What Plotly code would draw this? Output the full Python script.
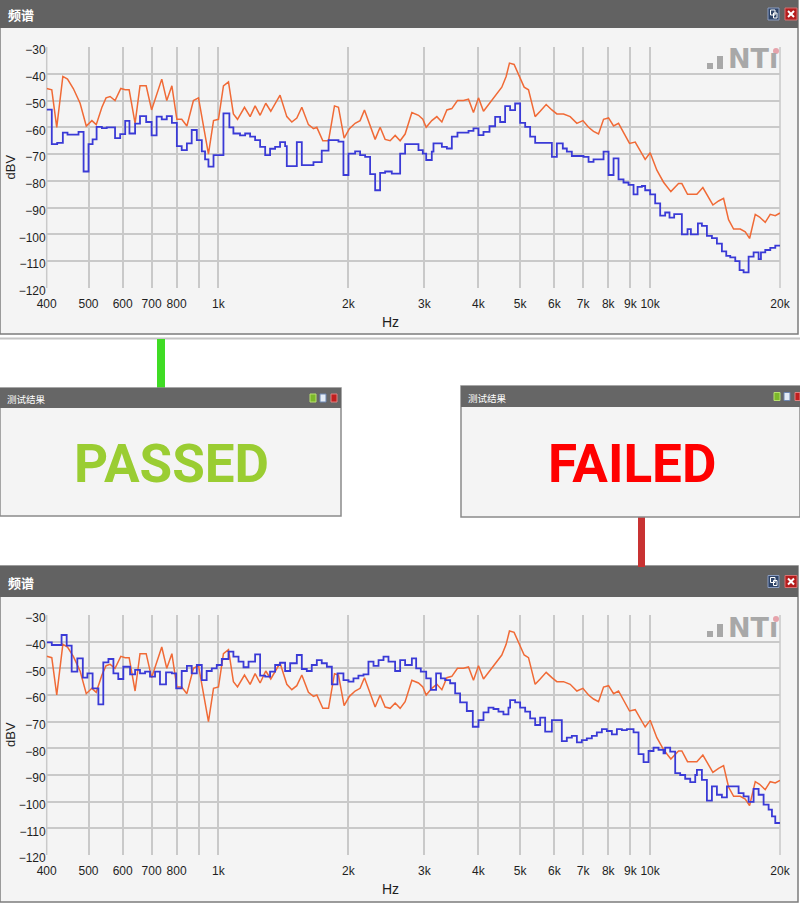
import math
import plotly.graph_objects as go

# ---------------- data ----------------
ORANGE_F = [400, 411, 422, 436, 447, 461, 478, 487, 494, 509,
            521, 537, 549, 561, 576, 594, 608, 621, 641, 658,
            680, 700, 719, 739, 759, 780, 801, 822, 845, 875,
            899, 923, 948, 974, 1000, 1027, 1055, 1083, 1107, 1149,
            1184, 1216, 1249, 1287, 1322, 1389, 1440, 1479, 1519, 1560,
            1616, 1660, 1690, 1745, 1799, 1857, 1897, 1955, 2011, 2073,
            2129, 2179, 2246, 2307, 2369, 2433, 2499, 2567, 2636, 2707,
            2806, 2907, 2975, 3029, 3121, 3206, 3293, 3382, 3473, 3579,
            3696, 3796, 3898, 4004, 4112, 4246, 4376, 4534, 4640, 4723,
            4842, 4956, 5108, 5228, 5417, 5564, 5745, 5922, 6082, 6302,
            6530, 6767, 6988, 7202, 7396, 7596, 7802, 8013, 8230, 8451,
            8679, 8962, 9238, 9486, 9742, 10006, 10180, 10369, 10745, 11173,
            11640, 11848, 12212, 12835, 13253, 13980, 14412, 14800, 15200, 15616,
            16180, 16616, 17004, 17528, 17936, 18484, 18984, 19500, 20000]
ORANGE_DB = [-45.5, -46, -60, -41, -42, -45.5, -51, -56, -59.5, -57.5,
             -59, -52.5, -49, -48.5, -50, -45.5, -46, -46, -58.5, -44.5,
             -44.5, -53.5, -47.5, -42, -50, -44.5, -57, -57, -59.5, -50,
             -49, -60, -70, -57.5, -57, -44.5, -43, -55, -57, -52.5,
             -56, -52, -55.5, -51, -54, -48, -56, -58, -56.5, -52.5,
             -59, -60.5, -60, -65, -65, -52, -52.5, -64, -60.5, -58.5,
             -57.5, -53.5, -59, -64.5, -60, -64.5, -65, -63, -65, -62.5,
             -54.5, -55.5, -57, -60, -57.5, -56, -58, -53.5, -53, -50,
             -50, -49.5, -54.5, -49, -54, -51, -48.5, -45, -41, -36,
             -36.5, -40.5, -45, -46, -56, -54, -51.5, -53.5, -55, -55,
             -56, -58.5, -57.5, -60, -61.5, -62.5, -57, -56.5, -59.5, -58.5,
             -62, -66, -65.5, -69, -72, -69.5, -73, -76, -80.5, -84,
             -81, -81, -85, -85, -82.5, -89, -87.5, -86.5, -94.5, -98,
             -98, -99, -101.5, -92.5, -93.5, -95.5, -92.5, -93, -92]

# top chart, measured (blue, stepped): band start frequency -> level
TOP_BLUE_F = [400, 411, 423, 436, 447, 474, 487, 500, 511, 522,
              537, 551, 576, 592, 608, 622, 641, 658, 680, 700,
              719, 739, 759, 780, 801, 822, 845, 867, 891, 915,
              931, 948, 974, 1027, 1060, 1083, 1122, 1153, 1184, 1216,
              1249, 1283, 1317, 1353, 1389, 1427, 1440, 1519, 1560, 1660,
              1735, 1799, 1897, 1948, 2001, 2073, 2129, 2187, 2246, 2307,
              2369, 2433, 2521, 2636, 2707, 2907, 2975, 3029, 3121, 3149,
              3293, 3382, 3473, 3579, 3796, 3898, 4004, 4112, 4246, 4376,
              4494, 4615, 4740, 4868, 5000, 5136, 5274, 5417, 5922, 6082,
              6278, 6414, 6588, 7010, 7202, 7396, 7802, 8013, 8230, 8451,
              8679, 8914, 9156, 9353, 9572, 9742, 10006, 10276, 10554, 10839,
              11093, 11372, 11848, 12212, 12434, 12907, 13185, 13542, 13908, 14284,
              14670, 15014, 15338, 15753, 16121, 16469, 16915, 17373, 17843, 18066,
              18489, 18989, 19502, 20000]
TOP_BLUE_DB = [-53.4, -66.3, -65.8, -62, -62.7, -61.7, -76.5, -66.3, -64.5, -59.8,
               -60.3, -60, -64, -62.5, -57.6, -62.3, -58.6, -55.8, -58, -63,
               -56, -57, -55.8, -58.3, -67, -68.5, -66, -61, -64.8, -69,
               -72, -74.7, -70.4, -54.8, -60, -62.3, -63, -62.3, -63.5, -64.8,
               -67.3, -70.4, -68, -67.3, -65.5, -67, -74.5, -65.5, -74.1, -73,
               -68.7, -64.8, -65.3, -77.8, -69.8, -69, -70.4, -71, -77.5, -83.5,
               -77, -76.5, -77.3, -69.8, -66.3, -68.5, -69.8, -72.2, -69.1, -66,
               -67.3, -67.9, -63.5, -62, -61.3, -60.4, -62.9, -61.7, -59.6, -56.1,
               -58, -52.1, -53.6, -51.1, -58.3, -59.8, -63.5, -65.8, -71, -66,
               -67.9, -69.1, -70.7, -71, -72.9, -72, -69.1, -77.8, -71.6, -79.4,
               -80.6, -81.5, -85, -82.2, -81.9, -83.5, -85, -88.4, -93, -91.8,
               -93.7, -92.4, -100, -98, -100, -95.9, -96.8, -100.5, -101.4, -103.4,
               -106.3, -108, -108.6, -110, -113.3, -114.2, -108.3, -106.7, -109.2, -106.7,
               -105.8, -105, -104.2, -104.2]

# bottom chart, measured (blue, stepped)
BOT_BLUE_F = [400, 411, 433, 445, 457, 471, 485, 497, 511, 527,
              541, 556, 571, 586, 602, 624, 641, 658, 676, 694,
              713, 732, 756, 780, 798, 822, 845, 867, 891, 915,
              939, 965, 991, 1018, 1055, 1083, 1113, 1143, 1174, 1216,
              1249, 1283, 1317, 1353, 1389, 1427, 1466, 1519, 1560, 1602,
              1645, 1690, 1735, 1783, 1831, 1887, 1948, 2001, 2055, 2110,
              2168, 2226, 2287, 2349, 2412, 2477, 2566, 2636, 2707, 2806,
              2871, 2943, 3029, 3104, 3194, 3275, 3351, 3442, 3535, 3630,
              3762, 3884, 4004, 4112, 4223, 4337, 4454, 4574, 4698, 4740,
              4868, 5000, 5136, 5274, 5417, 5564, 5714, 5922, 6245, 6414,
              6588, 6767, 6948, 7136, 7330, 7528, 7732, 7941, 8156, 8377,
              8603, 8836, 9156, 9403, 9658, 9919, 10187, 10460, 10743, 10839,
              11134, 11434, 11742, 12060, 12390, 12725, 12839, 13185, 13542, 13908,
              14284, 14670, 15067, 16036, 16469, 16915, 17373, 17843, 18325, 18821,
              19158, 19502, 20000]
BOT_BLUE_DB = [-40.3, -41.25, -37.5, -41.5, -51.25, -46.25, -53.5, -51.9, -57.5, -63.5,
               -47.75, -46.5, -51.9, -54, -49.4, -52.25, -50.6, -51.9, -51.25, -53.1,
               -51.25, -56, -51.5, -51.9, -57.5, -51, -49.1, -51.9, -48.75, -54.4,
               -51, -50, -48.75, -46.5, -43.75, -45.6, -47.5, -49.6, -47.5, -44.75,
               -52.75, -53.1, -51.25, -48.75, -47.9, -51, -48.1, -45, -50.25, -51,
               -48.75, -46.9, -48.1, -49.4, -56, -51.9, -54.4, -55, -53.75, -52.75,
               -52.25, -47.5, -49.1, -46.9, -45.6, -47.5, -51, -46.9, -48.75, -46.25,
               -50, -51.25, -53.75, -58.1, -51.9, -53.75, -54.4, -55.6, -59.4, -62.75,
               -66, -71.9, -69.4, -66.5, -64.75, -65.25, -66.25, -67.25, -64.75, -61.9,
               -62.75, -64.75, -66.25, -68.75, -71.25, -68.5, -73.75, -69.4, -77.3, -76,
               -75.3, -77.8, -76.9, -76.3, -75.3, -74, -72.8, -73.5, -74.8, -72.8,
               -73.2, -72.8, -74, -82.2, -85.2, -81, -79.75, -80.6, -81.9, -79.75,
               -81.2, -89.3, -90, -91.4, -92.7, -90, -88.1, -91.8, -99.6, -94.3,
               -97.4, -98.4, -94.3, -96.8, -98, -100.1, -95.2, -97.4, -101.1, -103,
               -105.5, -108, -108]

X_TICKS = [400, 500, 600, 700, 800, 900, 1000, 2000, 3000, 4000, 5000,
           6000, 7000, 8000, 9000, 10000, 20000]
X_LABELS = ["400", "500", "600", "700", "800", "", "1k", "2k", "3k", "4k", "5k",
            "6k", "7k", "8k", "9k", "10k", "20k"]
Y_TICKS = [-30, -40, -50, -60, -70, -80, -90, -100, -110, -120]

WINDOW_TITLE = "频谱"
RESULT_TITLE = "测试结果"
PASS_TEXT = "PASSED"
FAIL_TEXT = "FAILED"

assert len(ORANGE_F) == len(ORANGE_DB)
assert len(TOP_BLUE_F) == len(TOP_BLUE_DB)
assert len(BOT_BLUE_F) == len(BOT_BLUE_DB)

# ---------------- geometry helpers ----------------
W, H = 800, 904


def px(x):
    return x / W


def py(y):
    return 1 - y / H


ORANGE = "#f06a36"
BLUE = "#3a3ad6"
GRID = "#c9c9c9"
BAR = "#626262"
BODY = "#f4f4f4"
SANS = "Liberation Sans, Arial, sans-serif"
TICKFONT = dict(family=SANS, size=12, color="#1e1e1e")
PLOT_L, PLOT_R = 46.7, 780

fig = go.Figure()

fig.add_trace(go.Scatter(x=ORANGE_F, y=ORANGE_DB, mode="lines",
                         line=dict(color=ORANGE, width=1.5), xaxis="x", yaxis="y"))
fig.add_trace(go.Scatter(x=TOP_BLUE_F, y=TOP_BLUE_DB, mode="lines",
                         line=dict(color=BLUE, width=1.8, shape="hv"), xaxis="x", yaxis="y"))
fig.add_trace(go.Scatter(x=ORANGE_F, y=ORANGE_DB, mode="lines",
                         line=dict(color=ORANGE, width=1.5), xaxis="x2", yaxis="y2"))
fig.add_trace(go.Scatter(x=BOT_BLUE_F, y=BOT_BLUE_DB, mode="lines",
                         line=dict(color=BLUE, width=1.8, shape="hv"), xaxis="x2", yaxis="y2"))

xr = [math.log10(400), math.log10(20000)]
xcommon = dict(type="log", range=xr, domain=[px(PLOT_L), px(PLOT_R)], automargin=False,
               tickmode="array", tickvals=X_TICKS, ticktext=X_LABELS,
               showgrid=True, gridcolor=GRID, gridwidth=1.5, ticks="",
               ticklabelstandoff=7,
               showline=False, zeroline=False, tickfont=TICKFONT, fixedrange=True)
ycommon = dict(range=[-120, -30], tickmode="array", tickvals=Y_TICKS, automargin=False,
               showgrid=True, gridcolor=GRID, gridwidth=1.5, ticks="",
               ticklabelshift=3,
               showline=False, zeroline=False, tickfont=TICKFONT, fixedrange=True)

shapes = []


def rect(x0, y0, x1, y1, fill, line=None, lw=0, layer="below"):
    shapes.append(dict(type="rect", xref="paper", yref="paper",
                       x0=px(x0), x1=px(x1), y0=py(y1), y1=py(y0),
                       fillcolor=fill, line=dict(color=line or fill, width=lw), layer=layer))


def seg(x0, y0, x1, y1, color, lw=1, layer="above"):
    shapes.append(dict(type="line", xref="paper", yref="paper",
                       x0=px(x0), x1=px(x1), y0=py(y0), y1=py(y1),
                       line=dict(color=color, width=lw), layer=layer))


annotations = []


def text(x, y, s, size, color, family=SANS,
         xanchor="center", yanchor="middle", angle=0):
    annotations.append(dict(x=px(x), y=py(y), xref="paper", yref="paper", text=s,
                            showarrow=False, xanchor=xanchor, yanchor=yanchor,
                            textangle=angle, font=dict(size=size, color=color, family=family)))


CJK = "Noto Sans CJK SC, sans-serif"


def spectrum_window(top, bottom, bar_h, plot_top, plot_bottom):
    rect(0, top, 798, bottom, BODY, "#7c7c7c", 1.5)
    rect(0, top, 798, top + bar_h, BAR)
    seg(PLOT_L, plot_top, PLOT_L, plot_bottom, GRID, 1.5, layer="below")
    seg(PLOT_R, plot_top, PLOT_R, plot_bottom, GRID, 1.5, layer="below")
    text(6, top + bar_h / 2 + 1, "<b>" + WINDOW_TITLE + "</b>", 13, "white", CJK, xanchor="left")
    iy0, iy1 = top + bar_h / 2 - 6, top + bar_h / 2 + 6
    rect(768, iy0, 779, iy1, "#2f4468", "#8a9cc0", 1, layer="above")
    rect(770.5, iy0 + 2, 775, iy0 + 7, "rgba(0,0,0,0)", "white", 1, layer="above")
    rect(773.5, iy0 + 5, 777, iy1 - 2, "rgba(0,0,0,0)", "white", 1, layer="above")
    rect(785, iy0, 797, iy1, "#b51d1d", "#d87070", 1, layer="above")
    seg(788, iy0 + 3, 794, iy1 - 3, "white", 2)
    seg(788, iy1 - 3, 794, iy0 + 3, "white", 2)
    text(10, (plot_top + plot_bottom) / 2, "dBV", 13, "#1e1e1e", angle=-90)
    text(390, plot_bottom + 34, "Hz", 14, "#1e1e1e")
    logo = "#a8a8a8"
    rect(707, plot_top + 16, 713, plot_top + 22, logo, layer="above")
    rect(717, plot_top + 9, 723, plot_top + 22, logo, layer="above")
    text(726, plot_top + 12, "<b>NTı</b>", 27, logo, "DejaVu Sans, sans-serif",
         xanchor="left")
    shapes.append(dict(type="circle", xref="paper", yref="paper",
                       x0=px(773), x1=px(779), y0=py(plot_top + 7), y1=py(plot_top + 1),
                       fillcolor="#e6a3ab", line=dict(width=0), layer="above"))


spectrum_window(0, 334, 28, 47, 288)
seg(0, 338.5, 800, 338.5, "#c4c4c4", 2, layer="below")
spectrum_window(566, 902, 31, 615, 855)

rect(157, 339, 165, 388, "#3fdc24")
rect(638, 517, 645, 567, "#c83232")


def result_window(x0, x1, top, bottom, bar_bottom, word, color, icon_x):
    rect(x0, top, x1, bottom, BODY, "#8a8a8a", 1.5)
    rect(x0, top, x1, bar_bottom, "#666666")
    text(x0 + 5, (top + bar_bottom) / 2 + 1, RESULT_TITLE, 9.5, "white", CJK, xanchor="left")
    iy0, iy1 = (top + bar_bottom) / 2 - 4, (top + bar_bottom) / 2 + 4
    rect(icon_x, iy0, icon_x + 6, iy1, "#7cb82a", "#b8e070", 1, layer="above")
    rect(icon_x + 10, iy0, icon_x + 16, iy1, "#e4ecf6", "#6d86b0", 1, layer="above")
    rect(icon_x + 21, iy0, min(icon_x + 27, x1), iy1, "#c01f1f", "#e08080", 1, layer="above")
    text((x0 + x1) / 2 + 1, 464, "<b>" + word + "</b>", 53, color, "Roboto, sans-serif")


result_window(0, 341, 388, 516, 408, PASS_TEXT, "#9acd32", 310)
result_window(461, 800, 386, 517, 407, FAIL_TEXT, "#ff0000", 774)

fig.update_layout(
    width=W, height=H, margin=dict(l=0, r=0, t=0, b=0, pad=0, autoexpand=False),
    paper_bgcolor="white", plot_bgcolor="rgba(0,0,0,0)", showlegend=False,
    xaxis=dict(xcommon, anchor="y"),
    yaxis=dict(ycommon, domain=[py(288), py(47)], anchor="x"),
    xaxis2=dict(xcommon, anchor="y2"),
    yaxis2=dict(ycommon, domain=[py(855), py(615)], anchor="x2"),
    shapes=shapes, annotations=annotations,
)

fig.write_html("out.html", config={"displayModeBar": False},
               post_script="document.body.style.margin='0';"
                           "document.body.style.padding='0';"
                           "document.body.style.overflow='hidden';")
